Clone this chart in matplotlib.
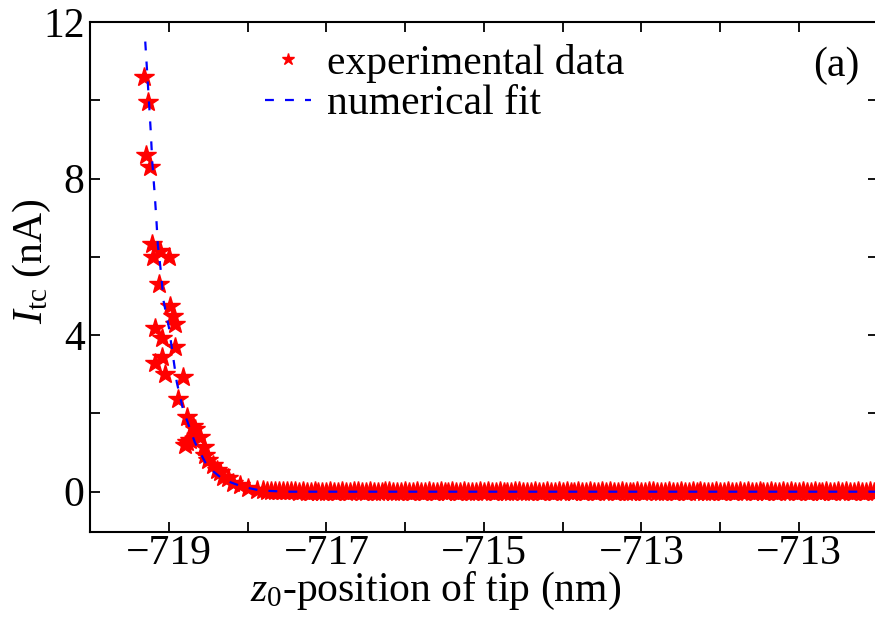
import numpy as np
import matplotlib
matplotlib.use('Agg')
import matplotlib.pyplot as plt

plt.rcParams['font.family'] = 'Liberation Serif'
plt.rcParams['mathtext.fontset'] = 'custom'
plt.rcParams['mathtext.rm'] = 'Liberation Serif'
plt.rcParams['mathtext.it'] = 'Liberation Serif:italic'

# experimental data, steep part near the surface
exp_x_head = [-719.31, -719.26, -719.29, -719.24, -719.21, -719.11, -719.20, -719.00,
              -719.12, -718.98, -718.95, -718.92, -719.17, -719.09, -718.92, -719.09,
              -719.17, -719.05, -718.82, -718.88, -718.77, -718.69, -718.67, -718.60,
              -718.79, -718.73, -718.77, -718.56, -718.54, -718.50, -718.44, -718.39,
              -718.35, -718.31, -718.25, -718.18, -718.10, -718.00, -717.88]
exp_y_head = [10.6, 9.95, 8.6, 8.3, 6.33, 6.15, 6.0, 6.0,
              5.3, 4.74, 4.5, 4.28, 4.18, 3.92, 3.7, 3.43,
              3.3, 3.0, 2.92, 2.36, 1.9, 1.67, 1.6, 1.4,
              1.2, 1.33, 1.26, 1.15, 0.95, 0.82, 0.69, 0.56,
              0.51, 0.38, 0.36, 0.23, 0.18, 0.10, 0.05]

# experimental data, flat tail (one row per nm)
exp_x_tail = [
    -717.80, -717.75, -717.70, -717.65, -717.60, -717.55, -717.50, -717.45, -717.40, -717.35,
    -717.30, -717.25, -717.20, -717.15, -717.10, -717.05,
    -717.00, -716.95, -716.90, -716.85, -716.80, -716.75, -716.70, -716.65, -716.60, -716.55,
    -716.50, -716.45, -716.40, -716.35, -716.30, -716.25, -716.20, -716.15, -716.10, -716.05,
    -716.00, -715.95, -715.90, -715.85, -715.80, -715.75, -715.70, -715.65, -715.60, -715.55,
    -715.50, -715.45, -715.40, -715.35, -715.30, -715.25, -715.20, -715.15, -715.10, -715.05,
    -715.00, -714.95, -714.90, -714.85, -714.80, -714.75, -714.70, -714.65, -714.60, -714.55,
    -714.50, -714.45, -714.40, -714.35, -714.30, -714.25, -714.20, -714.15, -714.10, -714.05,
    -714.00, -713.95, -713.90, -713.85, -713.80, -713.75, -713.70, -713.65, -713.60, -713.55,
    -713.50, -713.45, -713.40, -713.35, -713.30, -713.25, -713.20, -713.15, -713.10, -713.05,
    -713.00, -712.95, -712.90, -712.85, -712.80, -712.75, -712.70, -712.65, -712.60, -712.55,
    -712.50, -712.45, -712.40, -712.35, -712.30, -712.25, -712.20, -712.15, -712.10, -712.05,
    -712.00, -711.95, -711.90, -711.85, -711.80, -711.75, -711.70, -711.65, -711.60, -711.55,
    -711.50, -711.45, -711.40, -711.35, -711.30, -711.25, -711.20, -711.15, -711.10, -711.05,
    -711.00, -710.95, -710.90, -710.85, -710.80, -710.75, -710.70, -710.65, -710.60, -710.55,
    -710.50, -710.45, -710.40, -710.35, -710.30, -710.25, -710.20, -710.15, -710.10, -710.05,
    -710.00]
exp_y_tail = [
    0.04, 0.03, 0.03, 0.02, 0.02, 0.01, 0.02, 0.01, 0.01, 0.00,
    0.01, 0.00, 0.00, 0.01, 0.00, -0.01,
    0.00, 0.02, -0.01, 0.00, 0.01, -0.02, 0.00, 0.01, 0.02, 0.00,
    -0.01, 0.01, 0.00, -0.02, 0.00, 0.01, 0.02, 0.00, -0.01, 0.00,
    0.01, 0.00, -0.01, 0.02, 0.00, -0.02, 0.01, 0.00, 0.00, 0.01,
    -0.01, 0.00, 0.02, 0.00, -0.01, 0.01, 0.00, -0.02, 0.00, 0.01,
    0.00, 0.02, -0.01, 0.00, 0.01, 0.00, -0.02, 0.00, 0.01, 0.02,
    0.00, -0.01, 0.00, 0.01, -0.02, 0.00, 0.01, 0.00, -0.01, 0.02,
    0.00, 0.01, -0.01, 0.00, 0.02, 0.00, -0.02, 0.01, 0.00, -0.01,
    0.01, 0.00, 0.02, -0.01, 0.00, 0.01, 0.00, -0.02, 0.00, 0.01,
    -0.01, 0.00, 0.01, 0.02, 0.00, -0.01, 0.00, 0.01, -0.02, 0.00,
    0.01, 0.00, -0.01, 0.02, 0.00, 0.01, -0.01, 0.00, 0.00, 0.02,
    -0.01, 0.00, 0.01, 0.00, -0.02, 0.01, 0.00, 0.02, -0.01, 0.00,
    0.01, -0.02, 0.00, 0.01, 0.00, -0.01, 0.02, 0.00, 0.01, -0.01,
    0.00, 0.01, -0.02, 0.00, 0.02, 0.00, -0.01, 0.01, 0.00, -0.02,
    0.01, 0.00, 0.02, -0.01, 0.00, 0.01, -0.01, 0.00, 0.02, 0.00,
    0.01]

# numerical fit curve
fit_x = [-719.30, -719.26, -719.23, -719.21, -719.18, -719.16, -719.14, -719.10,
         -719.07, -719.00, -718.95, -718.90, -718.82, -718.67, -718.51, -718.31,
         -718.07, -717.84, -717.50, -710.0]
fit_y = [11.5, 10.2, 9.2, 8.4, 7.6, 7.0, 6.3, 5.6,
         4.9, 4.2, 3.5, 2.8, 2.1, 1.26, 0.64, 0.31,
         0.13, 0.03, 0.0, 0.0]

xtick_pos = [-719, -717, -715, -713, -711]
xtick_labels = ['\u2212719', '\u2212717', '\u2212715', '\u2212713', '\u2212713']
ytick_pos = [0, 2, 4, 6, 8, 10, 12]
ytick_labels = ['0', '', '4', '', '8', '', '12']

fig = plt.figure(figsize=(8.75, 6.21), dpi=100)
ax = fig.add_axes([0.103, 0.1433, 0.9, 0.8213])

ax.plot(exp_x_head + exp_x_tail, exp_y_head + exp_y_tail, linestyle='none',
        marker='*', markersize=15, color='#ff0000', mec='#ff0000',
        label='experimental data', zorder=2)
ax.plot(fit_x, fit_y, color='#0000ff', lw=1.6, dashes=(4, 5),
        label='numerical fit', zorder=3)

ax.set_xlim(-720, -710)
ax.set_ylim(-1.03, 12)
ax.set_xticks(xtick_pos)
ax.set_xticklabels(xtick_labels)
ax.set_xticks([-718, -716, -714, -712], minor=True)
ax.set_yticks(ytick_pos)
ax.set_yticklabels(ytick_labels)

ax.tick_params(which='both', direction='in', top=True, right=True,
               length=7, width=1.3, labelsize=30, pad=4)
ax.tick_params(axis='x', pad=2)
for s in ax.spines.values():
    s.set_linewidth(1.5)

ax.set_xlabel('$z_0$-position of tip (nm)', fontsize=30)
ax.xaxis.set_label_coords(0.438, -0.074)
ax.set_ylabel('$I_{\\rm tc}$ (nA)', fontsize=30)
ax.yaxis.set_label_coords(-0.047, 0.53)

ax.text(0.947, 0.915, '(a)', transform=ax.transAxes, fontsize=30,
        ha='center', va='center')

ax.legend(loc='upper left', bbox_to_anchor=(0.222, 0.957), frameon=False,
          fontsize=30, handlelength=1.1, handletextpad=0.4, markerscale=0.6,
          borderpad=0, borderaxespad=0, labelspacing=0.05)

fig.savefig('out.png', dpi=100)
